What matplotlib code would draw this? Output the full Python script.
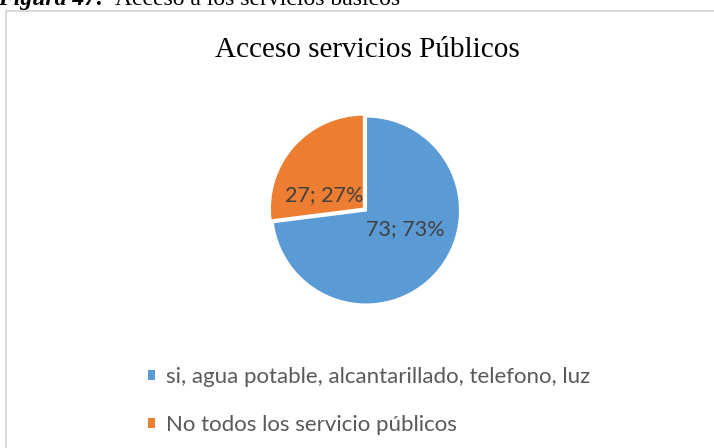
import matplotlib
matplotlib.use("Agg")
import matplotlib.pyplot as plt
from matplotlib.patches import Rectangle

categories = ["si, agua potable, alcantarillado, telefono, luz", "No todos los servicio públicos"]
values = [73, 27]
colors = ["#5B9BD5", "#ED7D31"]
title = "Acceso servicios Públicos"
caption_bold = "Figura 47:"
caption_rest = "Acceso a los servicios básicos"

W, H = 714, 448
fig = plt.figure(figsize=(W / 100, H / 100), dpi=100)
fig.patch.set_facecolor("white")

# chart border (extends beyond the right/bottom edges)
fig.patches.append(Rectangle((6 / W, -0.1), 1.2, (448 - 11) / H + 0.1, transform=fig.transFigure,
                             fill=False, edgecolor="#D9D9D9", linewidth=1.5))

# caption partially cut at the top
fig.text(104 / W, 1 - 5 / H, caption_bold, fontsize=17, family="Liberation Serif",
         fontweight="bold", fontstyle="italic", va="baseline", ha="right")
fig.text(115 / W, 1 - 5 / H, caption_rest, fontsize=17, family="Liberation Serif",
         va="baseline", ha="left")

fig.text(367 / W, 1 - 57 / H, title, fontsize=21, family="Liberation Serif",
         ha="center", va="baseline", color="black")

cx, cy, r = 366, 210.5, 94
ax = fig.add_axes([(cx - r) / W, (H - cy - r) / H, 2 * r / W, 2 * r / H])
wedges, texts, autotexts = ax.pie(values, colors=colors, startangle=90, counterclock=False,
                                  explode=[0, 0.03], radius=1,
                                  wedgeprops=dict(edgecolor="white", linewidth=1.5),
                                  autopct=lambda p: "", pctdistance=0.5)
ax.set_xlim(-1, 1)
ax.set_ylim(-1, 1)
ax.set_aspect("equal")
ax.axis("off")
for w in wedges:
    w.set_clip_on(False)

label_pos = [(0.415, -0.20), (-0.45, 0.165)]
for t, v, pos in zip(autotexts, values, label_pos):
    t.set_text(f"{v}; {v}%")
    t.set_position(pos)
    t.set_fontsize(15.5)
    t.set_family("Lato")
    t.set_color("#404040")
    t.set_ha("center")
    t.set_va("center")

leg = fig.legend(wedges, categories, loc="upper left", bbox_to_anchor=(141 / W, 1 - 360 / H),
                 frameon=False, prop=dict(family="Lato", size=16), labelcolor="#595959",
                 handlelength=0.32, handleheight=0.32, handletextpad=0.5, labelspacing=1.27,
                 borderaxespad=0, borderpad=0.3)
for h in leg.legend_handles:
    h.set_edgecolor("none")

fig.savefig("out.png", dpi=100)
